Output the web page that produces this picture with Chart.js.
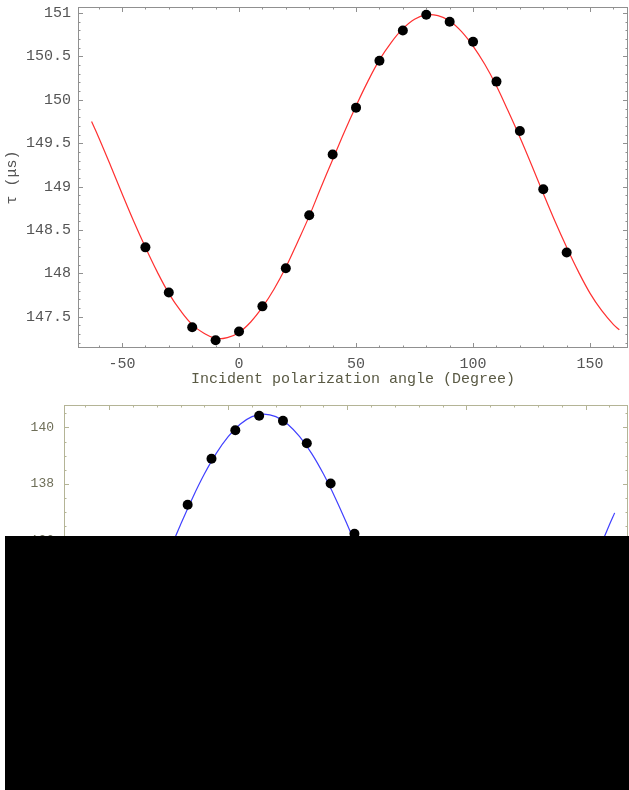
<!DOCTYPE html>
<html>
<head>
<meta charset="utf-8">
<script src="https://cdn.jsdelivr.net/npm/chart.js@4/dist/chart.umd.min.js"></script>
<style>
  body { margin: 0; background: #fff; }
  #wrap { position: relative; width: 629px; height: 790px; overflow: hidden; }
  canvas { position: absolute; left: 0; }
  #c1 { top: 0; }
  #c2 { top: 395px; }
  #mask { position: absolute; left: 5px; top: 536px; width: 624px; height: 254px; background: #000; }
</style>
</head>
<body>
<div id="wrap">
  <canvas id="c1" width="629" height="395"></canvas>
  <canvas id="c2" width="629" height="395"></canvas>
  <div id="mask"></div>
</div>
<script>
// top panel - measured lifetimes
const angleTop = [-40, -30, -20, -10, 0, 10, 20, 30, 40, 50, 60, 70, 80, 90, 100, 110, 120, 130, 140];
const tauTop = [148.30, 147.78, 147.38, 147.23, 147.33, 147.62, 148.06, 148.67, 149.37, 149.91,
                150.45, 150.80, 150.98, 150.90, 150.67, 150.21, 149.64, 148.97, 148.24];

// top panel - red fit line
const fitAngleTop = [-63, -60, -55, -50, -45, -40, -35, -30, -25, -20, -15, -10, -5, 0, 5, 10, 15, 20, 25, 30,
                     35, 40, 45, 50, 55, 60, 65, 70, 75, 80, 85, 90, 95, 100, 105, 110, 115, 120, 125, 130,
                     135, 140, 145, 150, 155, 160, 162.5];
const fitTauTop = [149.75, 149.57, 149.25, 148.92, 148.60, 148.30, 148.02, 147.77, 147.57, 147.41, 147.31, 147.25,
                   147.26, 147.32, 147.44, 147.61, 147.82, 148.07, 148.36, 148.66, 148.99, 149.31, 149.63, 149.93,
                   150.21, 150.46, 150.66, 150.82, 150.93, 150.98, 150.97, 150.91, 150.79, 150.62, 150.41, 150.16,
                   149.87, 149.57, 149.25, 148.92, 148.60, 148.30, 148.02, 147.77, 147.57, 147.41, 147.35];

// bottom panel - measured lifetimes (only the visible part)
const angleBottom = [-17, -7, 3, 13, 23, 33, 43, 53];
const tauBottom = [137.27, 138.89, 139.90, 140.41, 140.23, 139.44, 138.02, 136.24];

// bottom panel - blue fit line
const fitAngleBottom = [-63, -60, -55, -50, -45, -40, -35, -30, -25, -20, -15, -10, -5, 0, 5, 10, 15, 20, 25, 30,
                        35, 40, 45, 50, 55, 60, 65, 70, 75, 80, 85, 90, 95, 100, 105, 110, 115, 120, 125, 130,
                        135, 140, 145, 150, 155, 160, 162.2];
const fitTauBottom = [129.10, 129.39, 129.98, 130.71, 131.56, 132.50, 133.50, 134.53, 135.56, 136.56, 137.50, 138.35,
                      139.08, 139.67, 140.11, 140.38, 140.47, 140.38, 140.11, 139.67, 139.08, 138.35, 137.50, 136.56,
                      135.56, 134.53, 133.50, 132.50, 131.56, 130.71, 129.98, 129.39, 128.95, 128.68, 128.59, 128.68,
                      128.95, 129.39, 129.98, 130.71, 131.56, 132.50, 133.50, 134.53, 135.56, 136.56, 136.98];

const xTicks = [-50, 0, 50, 100, 150];
const yTicksTop = [147.5, 148, 148.5, 149, 149.5, 150, 150.5, 151];
const yTicksBottom = [130, 132, 134, 136, 138, 140];

const mono = "'Liberation Mono', 'Courier New', monospace";
const xTitle = 'Incident polarization angle (Degree)';
const yTitle = 'τ (μs)';

const zip = (xs, ys) => xs.map((v, i) => ({ x: v, y: ys[i] }));

// mathematica style frame: box with inward ticks on all four sides
const framePlugin = {
  id: 'frame',
  beforeDatasetsDraw(chart, args, o) {
    const { ctx, chartArea: a } = chart;
    const x = chart.scales.x, y = chart.scales.y;
    const steps = (s, step) => {
      const out = [];
      for (let k = Math.ceil(s.min / step - 1e-9); k * step <= s.max + 1e-9; k++) out.push(k * step);
      return out;
    };
    const isMajor = (s, v) => s.ticks.some(t => Math.abs(t.value - v) < 1e-6);
    ctx.save();
    ctx.strokeStyle = o.color;
    ctx.lineWidth = 1;
    ctx.strokeRect(a.left + 0.5, a.top + 0.5, a.right - a.left - 1, a.bottom - a.top - 1);
    ctx.beginPath();
    steps(x, o.xMinor).forEach(v => {
      const px = Math.round(x.getPixelForValue(v)) + 0.5;
      const len = isMajor(x, v) ? o.major : o.minor;
      ctx.moveTo(px, a.top); ctx.lineTo(px, a.top + len);
      ctx.moveTo(px, a.bottom); ctx.lineTo(px, a.bottom - len);
    });
    steps(y, o.yMinor).forEach(v => {
      const py = Math.round(y.getPixelForValue(v)) + 0.5;
      const len = isMajor(y, v) ? o.major : o.minor;
      ctx.moveTo(a.left, py); ctx.lineTo(a.left + len, py);
      ctx.moveTo(a.right, py); ctx.lineTo(a.right - len, py);
    });
    ctx.stroke();
    ctx.restore();
  }
};

function panel(id, p) {
  const font = { family: mono, size: p.fontSize };
  return new Chart(document.getElementById(id), {
    type: 'scatter',
    data: {
      datasets: [
        { data: zip(p.angles, p.taus), pointRadius: 5, pointBackgroundColor: '#000', pointBorderWidth: 0, showLine: false },
        { data: zip(p.fitAngles, p.fitTaus), showLine: true, pointRadius: 0, borderColor: p.lineColor, borderWidth: 1.2, tension: 0.4 }
      ]
    },
    options: {
      responsive: false,
      animation: false,
      layout: { autoPadding: false, padding: { top: p.top, right: 1, left: 0, bottom: 0 } },
      plugins: {
        legend: { display: false },
        tooltip: { enabled: false },
        frame: { color: p.frameColor, major: 5, minor: 2.5, xMinor: 10, yMinor: p.yMinor }
      },
      scales: {
        x: {
          type: 'linear', bounds: 'data', min: p.xMin, max: p.xMax,
          afterBuildTicks: s => { s.ticks = xTicks.map(v => ({ value: v })); },
          afterFit: s => { s.height = p.xHeight; s.paddingLeft = 0; s.paddingRight = 0; },
          grid: { display: false, drawTicks: false, tickLength: 0 }, border: { display: false },
          ticks: { font, color: p.labelColor, padding: 7, maxRotation: 0, autoSkip: false, callback: v => String(v) },
          title: { display: true, text: xTitle, font, color: '#5a5a44', padding: { top: 0, bottom: 7 } }
        },
        y: {
          type: 'linear', bounds: 'data', min: p.yMin, max: p.yMax,
          afterBuildTicks: s => { s.ticks = p.yTicks.map(v => ({ value: v })); },
          afterFit: s => { s.width = p.yWidth; s.paddingTop = 0; s.paddingBottom = 0; },
          grid: { display: false, drawTicks: false, tickLength: 0 }, border: { display: false },
          ticks: { font, color: p.labelColor, padding: p.yPad, autoSkip: false, callback: v => String(v) },
          title: { display: true, text: yTitle, font, color: p.labelColor, padding: { top: 3, bottom: 0 } }
        }
      }
    },
    plugins: [framePlugin]
  });
}

panel('c1', {
  angles: angleTop, taus: tauTop, fitAngles: fitAngleTop, fitTaus: fitTauTop,
  lineColor: '#ff3030', frameColor: '#909090', labelColor: '#555555', fontSize: 15,
  xMin: -68.8, xMax: 166.2, yMin: 147.14, yMax: 151.07, yTicks: yTicksTop, yMinor: 0.1,
  top: 7, xHeight: 47, yWidth: 78, yPad: 7
});

panel('c2', {
  angles: angleBottom, taus: tauBottom, fitAngles: fitAngleBottom, fitTaus: fitTauBottom,
  lineColor: '#4040ff', frameColor: '#b4b496', labelColor: '#6e6e58', fontSize: 13,
  xMin: -68.9, xMax: 167.8, yMin: 128.5, yMax: 140.79, yTicks: yTicksBottom, yMinor: 0.5,
  top: 10, xHeight: 37, yWidth: 64, yPad: 10
});
</script>
</body>
</html>
